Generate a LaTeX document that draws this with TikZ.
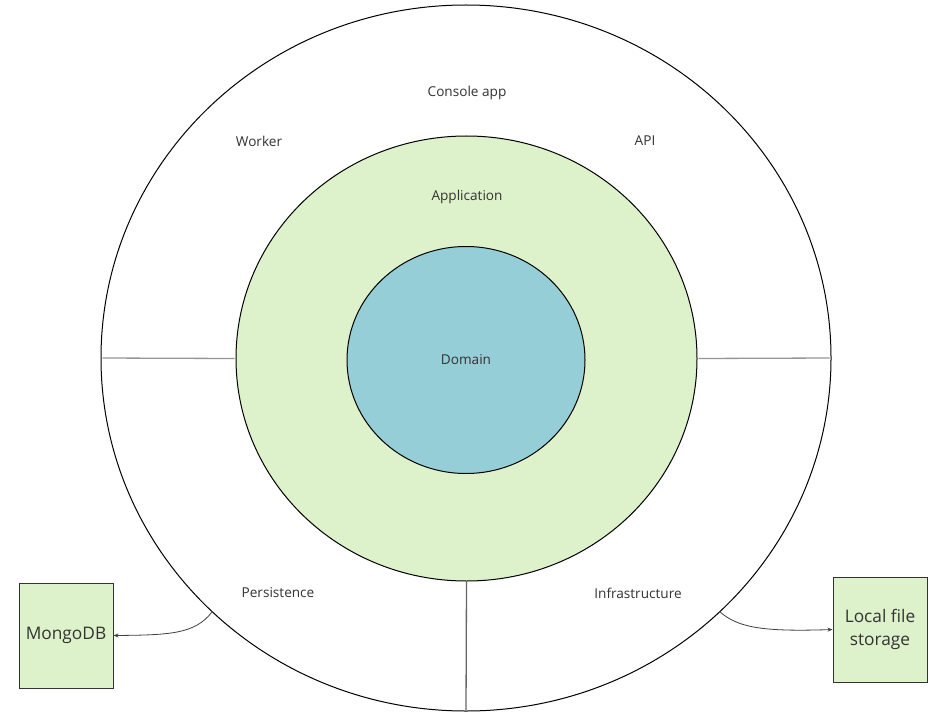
\documentclass[tikz,border=0pt]{standalone}
\usepackage{fontspec}
\setmainfont{Open Sans}
\usetikzlibrary{arrows.meta, positioning, shapes.geometric}
\definecolor{LayerGreen}{RGB}{221,242,203}
\definecolor{CoreBlue}{RGB}{150,206,216}
\definecolor{TextGrey}{RGB}{51,51,51}
\definecolor{LineGrey}{RGB}{150,150,150}

\begin{document}
\begin{tikzpicture}[
            x=1pt, y=-1pt,
            ring/.style={
                ellipse,
                draw=black,
                line width=1pt,
                inner sep=0pt
            },
            layer/.style={
                text=TextGrey,
                font=\fontsize{13.6}{15}\selectfont
            },
            store/.style={
                draw=black!80,
                fill=LayerGreen,
                line width=1pt,
                align=center,
                text=TextGrey,
                minimum width=94pt,
                minimum height=105pt,
                inner sep=0pt,
                font=\fontsize{17.3}{23}\selectfont
            },
            divider/.style={draw=LineGrey, line width=1.3pt, shorten <=2pt, shorten >=1pt},
            arrow/.style={-{Stealth[length=5pt, width=4pt]}, line width=0.8pt, draw=black!75}
        ]
            \useasboundingbox (0,0) rectangle (949,722);
            \fill[white] (0,0) rectangle (949,722);

            % rings
            \node[ring, minimum width=730pt, minimum height=706pt] (outer) at (466,358) {};
            \node[ring, fill=LayerGreen, minimum width=461pt, minimum height=445pt] (app) at (466.5,358.5) {};
            \node[ring, fill=CoreBlue, minimum width=238pt, minimum height=227pt, layer] (domain) at (466,360) {Domain};

            % dividers of the outer ring
            \draw[divider] (outer.west) -- (app.west);
            \draw[divider] (outer.east) -- (app.east);
            \draw[divider, draw=black!60, shorten <=0pt] (app.south) -- (outer.south);

            % labels
            \node[layer] (console) at (467,93) {Console app};
            \node[layer] (worker) at (259,141) {Worker};
            \node[layer] (api) at (645,141) {API};
            \node[layer] (appl) at (467,197) {Application};
            \node[layer] (persist) at (278,593) {Persistence};
            \node[layer] (infra) at (638,593) {Infrastructure};

            % data stores
            \node[store] (mongo) at (66,635.5) {MongoDB};
            \node[store] (files) at (880,629.5) {Local file\\storage};

            \draw[arrow] (outer.-135) .. controls (195,634) and (170,635) .. (mongo.east);
            \draw[arrow] (outer.-45) .. controls (738,627) and (760,632) .. (files.west);
        \end{tikzpicture}
\end{document}
